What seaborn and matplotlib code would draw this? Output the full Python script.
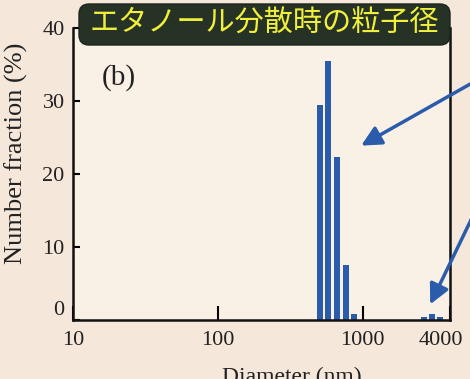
import matplotlib
matplotlib.use("Agg")
import matplotlib.pyplot as plt
import matplotlib.transforms as mtransforms
import seaborn as sns
from matplotlib.patches import FancyBboxPatch

# particle size distribution
diameter = [504, 573, 661, 763, 867, 2643, 3006, 3414]
fraction = [29.5, 35.5, 22.3, 7.5, 0.8, 0.4, 0.8, 0.4]
xticks = [10, 100, 1000, 4000]
yticks = [0, 10, 20, 30, 40]
title = "エタノール分散時の粒子径"

paper = "#f5e7d9"
blue = "#2b5cab"

sns.set_theme(style="ticks")
plt.rcParams["font.family"] = ["Liberation Serif", "DejaVu Serif"]

fig = plt.figure(figsize=(4.7, 3.79), dpi=100, facecolor=paper)
ax = fig.add_axes([73 / 470, 1 - 320 / 379, 377 / 470, 292 / 379])
ax.set_facecolor("#f9f0e6")

ax.set_xscale("log")
# bars of constant width in log space
widths = [d * (10 ** 0.021 - 10 ** -0.021) for d in diameter]
ax.bar(diameter, fraction, width=widths, color=blue, linewidth=0)

ax.set_xlim(10, 4000)
ax.set_ylim(0, 40)
ax.set_xticks(xticks)
ax.set_xticklabels([str(t) for t in xticks])
ax.set_yticks(yticks)
ax.minorticks_off()
ax.tick_params(axis="x", direction="in", length=10, width=1.5, labelsize=16, pad=8, colors="black")
ax.tick_params(axis="y", direction="in", length=5, width=1.5, labelsize=16, pad=6, colors="black")
for lab in ax.get_xticklabels() + ax.get_yticklabels():
    lab.set_color("#222222")
last = ax.get_xticklabels()[-1]
last.set_transform(last.get_transform() + mtransforms.ScaledTranslation(-0.09, 0, fig.dpi_scale_trans))
ax.get_yticklabels()[0].set_verticalalignment("bottom")

for s in ["left", "right", "bottom"]:
    ax.spines[s].set_linewidth(1.8)
    ax.spines[s].set_color("#111111")
ax.spines["top"].set_visible(False)

ax.set_ylabel("Number fraction (%)", fontsize=19, color="#222222", va="center", ha="center")
ax.yaxis.set_label_coords(-0.15, 0.57)
ax.set_xlabel("Diameter (nm)", fontsize=17, color="#222222")
ax.xaxis.set_label_coords(0.58, -0.16)

ax.text(0.075, 0.83, "(b)", transform=ax.transAxes, fontsize=21, color="#222222", va="center")

# arrows pointing at the two populations
ax.annotate("", xy=(938, 23.7), xytext=(1.01, 0.785), textcoords="figure fraction",
            arrowprops=dict(arrowstyle="-|>", color=blue, lw=2.5, mutation_scale=30))
ax.annotate("", xy=(2864, 1.8), xytext=(1.01, 0.44), textcoords="figure fraction",
            arrowprops=dict(arrowstyle="-|>", color=blue, lw=2.5, mutation_scale=30))

# title banner
box = FancyBboxPatch((0.79, 3.34), 3.71, 0.41, boxstyle="round,pad=0,rounding_size=0.1",
                     transform=fig.dpi_scale_trans, fc="#263225", ec="#1c241b", lw=1)
fig.patches.append(box)
fig.text(264 / 470, 1 - 24 / 379, title, ha="center", va="center", fontsize=21,
         color="#f0f03c", family=["Noto Sans CJK JP", "DejaVu Sans"])

fig.savefig("out.png", dpi=100, facecolor=paper)
